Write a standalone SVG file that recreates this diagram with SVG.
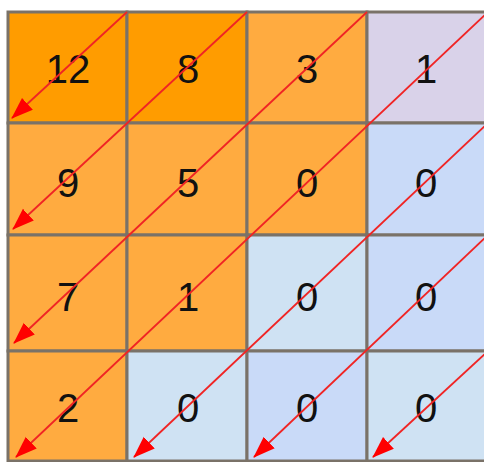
<svg xmlns="http://www.w3.org/2000/svg" width="484" height="462" viewBox="0 0 484 462">
<style>
.c{stroke:#7a7268;stroke-width:3}
.d{fill:#ff9c00}
.o{fill:#ffab40}
.l{fill:#d9d2e9}
.b1{fill:#cfe2f3}
.b2{fill:#c9daf8}
text{font-family:"Liberation Sans",Arial,sans-serif;font-size:40px;fill:#111;text-anchor:middle}
.a{stroke:#f02424;stroke-width:1.8;fill:none;marker-end:url(#ah)}
</style>
<defs>
<marker id="ah" markerUnits="userSpaceOnUse" markerWidth="24" markerHeight="18" refX="21" refY="8" orient="auto" viewBox="0 0 24 18">
<path d="M0,0 L22,8 L0,16 z" fill="#ff0000"/>
</marker>
</defs>
<rect width="484" height="462" fill="#fff"/>
<g id="r1c1"><rect class="c d" x="8" y="12" width="119" height="111"/><text x="68" y="83">12</text></g>
<g id="r1c2"><rect class="c d" x="127" y="12" width="120" height="111"/><text x="188" y="83">8</text></g>
<g id="r1c3"><rect class="c o" x="247" y="12" width="120" height="111"/><text x="307" y="83">3</text></g>
<g id="r1c4"><rect class="c l" x="367" y="12" width="121" height="111"/><text x="426" y="83">1</text></g>
<g id="r2c1"><rect class="c o" x="8" y="123" width="119" height="112"/><text x="68" y="197">9</text></g>
<g id="r2c2"><rect class="c o" x="127" y="123" width="120" height="112"/><text x="188" y="197">5</text></g>
<g id="r2c3"><rect class="c o" x="247" y="123" width="120" height="112"/><text x="307" y="197">0</text></g>
<g id="r2c4"><rect class="c b2" x="367" y="123" width="121" height="112"/><text x="426" y="197">0</text></g>
<g id="r3c1"><rect class="c o" x="8" y="235" width="119" height="116"/><text x="68" y="311">7</text></g>
<g id="r3c2"><rect class="c o" x="127" y="235" width="120" height="116"/><text x="188" y="311">1</text></g>
<g id="r3c3"><rect class="c b1" x="247" y="235" width="120" height="116"/><text x="307" y="311">0</text></g>
<g id="r3c4"><rect class="c b2" x="367" y="235" width="121" height="116"/><text x="426" y="311">0</text></g>
<g id="r4c1"><rect class="c o" x="8" y="351" width="119" height="110"/><text x="68" y="422">2</text></g>
<g id="r4c2"><rect class="c b1" x="127" y="351" width="120" height="110"/><text x="188" y="422">0</text></g>
<g id="r4c3"><rect class="c b2" x="247" y="351" width="120" height="110"/><text x="307" y="422">0</text></g>
<g id="r4c4"><rect class="c b1" x="367" y="351" width="121" height="110"/><text x="426" y="422">0</text></g>
<g id="connectors">
<line class="a" x1="127" y1="12" x2="12" y2="118"/>
<line class="a" x1="247" y1="12" x2="13" y2="229"/>
<line class="a" x1="367" y1="12" x2="14" y2="343"/>
<line class="a" x1="488" y1="12" x2="16" y2="457"/>
<line class="a" x1="488" y1="123" x2="134" y2="457"/>
<line class="a" x1="488" y1="235" x2="254" y2="457"/>
<line class="a" x1="488" y1="351" x2="373" y2="457"/>
</g>
</svg>
